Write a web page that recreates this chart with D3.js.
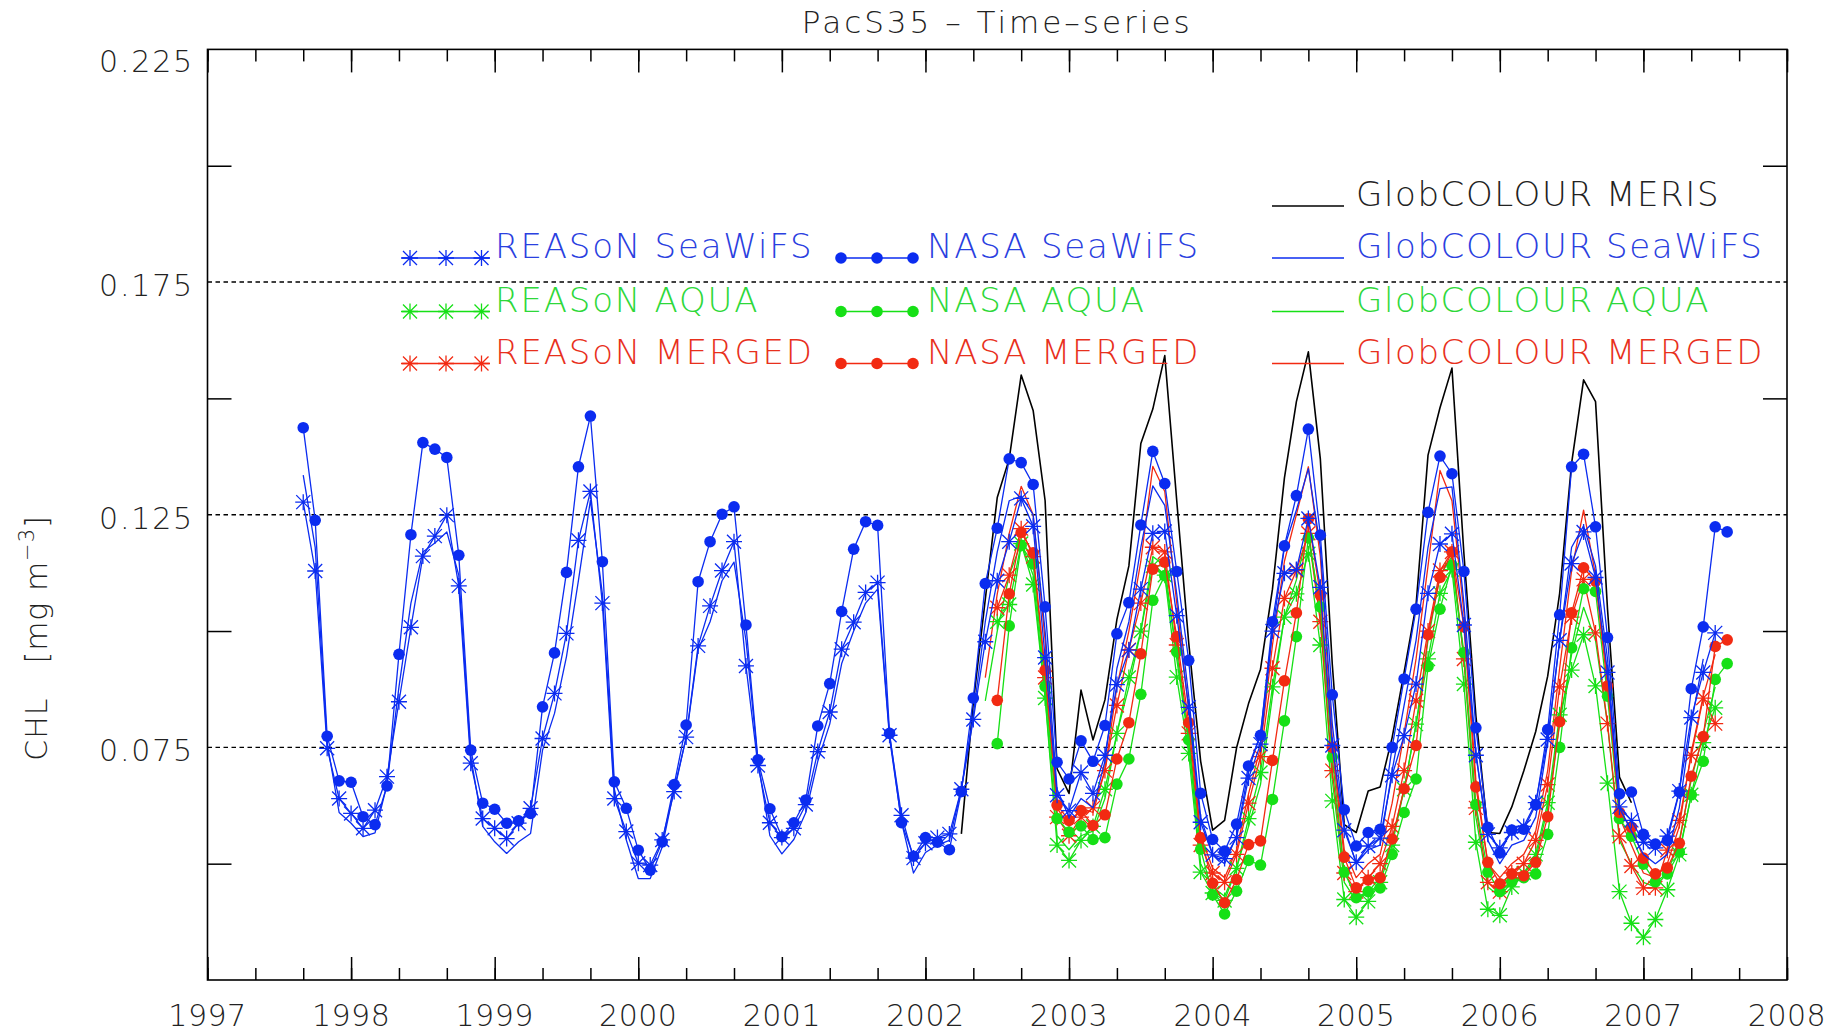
<!DOCTYPE html>
<html><head><meta charset="utf-8">
<script src="https://cdn.jsdelivr.net/npm/d3@7"></script>
<style>
body{margin:0;background:#fff;}
svg{display:block;}
text{font-family:"DejaVu Sans","Liberation Sans",sans-serif;font-weight:200;}
</style>
</head><body>
<svg id="chart" width="1845" height="1034"></svg>
<script>
// ---------------- DATA ----------------
const yearTicks = [1997,1998,1999,2000,2001,2002,2003,2004,2005,2006,2007,2008];
const yLabelTicks = [0.225,0.175,0.125,0.075];
const yMinorTicks = [0.2,0.15,0.1,0.05];
const yGridTicks = [0.175,0.125,0.075];

// monthly series: start [year, month]
const nasaSeaWiFSStart = [1997,9];
const nasaSeaWiFS = [0.1437,0.1238,0.0774,0.0678,
 0.0675,0.0601,0.0584,0.0667,0.0950,0.1207,0.1405,0.1391,0.1373,0.1163,0.0744,0.0630,
 0.0617,0.0587,0.0592,0.0608,0.0837,0.0953,0.1126,0.1353,0.1462,0.1149,0.0676,0.0619,
 0.0529,0.0486,0.0547,0.0670,0.0798,0.1106,0.1192,0.1251,0.1267,0.1013,0.0723,0.0618,
 0.0558,0.0588,0.0637,0.0796,0.0887,0.1042,0.1176,0.1235,0.1227,0.0780,0.0588,0.0516,
 0.0556,0.0546,0.0530,0.0655,0.0856,0.1102,0.1221,0.1370,0.1362,0.1315,0.1052,0.0718,
 0.0682,0.0764,0.0720,0.0797,0.0994,0.1061,0.1228,0.1386,0.1317,0.1128,0.0937,0.0651,
 0.0552,0.0527,0.0585,0.0710,0.0776,0.1020,0.1183,0.1291,0.1434,0.1206,0.0863,0.0616,
 0.0538,0.0567,0.0574,0.0750,0.0897,0.1047,0.1255,0.1376,0.1338,0.1128,0.0792,0.0578,
 0.0523,0.0572,0.0574,0.0627,0.0788,0.1035,0.1353,0.1380,0.1224,0.0986,0.0650,0.0654,
 0.0563,0.0542,0.0550,0.0654,0.0876,0.1009,0.1224,0.1213];

const reasonSeaWiFSStart = [1997,9];
const reasonSeaWiFS = [0.1277,0.1129,0.0748,0.0640,
 0.0608,0.0576,0.0615,0.0687,0.0848,0.1008,0.1161,0.1204,0.1249,0.1097,0.0716,0.0597,
 0.0576,0.0554,0.0587,0.0619,0.0769,0.0866,0.0995,0.1195,0.1300,0.1060,0.0640,0.0569,
 0.0501,0.0497,0.0551,0.0655,0.0772,0.0968,0.1054,0.1130,0.1192,0.0925,0.0711,0.0588,
 0.0556,0.0576,0.0627,0.0741,0.0826,0.0961,0.1019,0.1083,0.1104,0.0776,0.0604,0.0512,
 0.0544,0.0556,0.0564,0.0660,0.0810,0.0977,0.1108,0.1192,0.1285,0.1225,0.0943,0.0647,
 0.0614,0.0696,0.0651,0.0733,0.0885,0.0959,0.1090,0.1210,0.1214,0.1033,0.0836,0.0589,
 0.0519,0.0511,0.0556,0.0684,0.0757,0.1000,0.1124,0.1132,0.1242,0.1094,0.0754,0.0572,
 0.0503,0.0538,0.0555,0.0690,0.0775,0.0886,0.1081,0.1187,0.1209,0.1013,0.0733,0.0563,
 0.0534,0.0567,0.0580,0.0631,0.0767,0.0980,0.1145,0.1213,0.1115,0.0911,0.0622,0.0593,
 0.0546,0.0534,0.0559,0.0656,0.0814,0.0911,0.0996];

const globSeaWiFSStart = [1997,9];
const globSeaWiFS = [0.1335,0.1180,0.0760,0.0610,
 0.0587,0.0558,0.0566,0.0670,0.0880,0.1060,0.1170,0.1189,0.1213,0.1120,0.0730,0.0580,
 0.0547,0.0522,0.0547,0.0565,0.0744,0.0823,0.0945,0.1109,0.1281,0.1080,0.0660,0.0551,
 0.0468,0.0468,0.0536,0.0660,0.0770,0.0960,0.1020,0.1108,0.1148,0.0980,0.0720,0.0560,
 0.0521,0.0552,0.0610,0.0720,0.0800,0.0930,0.1000,0.1060,0.1090,0.0770,0.0590,0.0480,
 0.0524,0.0540,0.0550,0.0660,0.0820,0.1020,0.1170,0.1280,0.1290,0.1250,0.1000,0.0660,
 0.0600,0.0640,0.0620,0.0720,0.0920,0.1020,0.1180,0.1312,0.1270,0.1080,0.0860,0.0600,
 0.0520,0.0500,0.0560,0.0700,0.0780,0.1000,0.1180,0.1260,0.1349,0.1180,0.0800,0.0580,
 0.0500,0.0530,0.0540,0.0700,0.0840,0.0980,0.1180,0.1306,0.1310,0.1060,0.0740,0.0550,
 0.0500,0.0540,0.0550,0.0600,0.0760,0.0980,0.1180,0.1226,0.1140,0.0940,0.0620,0.0570,
 0.0520,0.0500,0.0520,0.0620,0.0800,0.0940];

const globMerisStart = [2002,4];
const globMeris = [0.0564,0.0846,0.1068,0.1287,0.1370,0.1550,0.1474,0.1280,0.0704,
 0.0651,0.0873,0.0766,0.0852,0.1025,0.1140,0.1403,0.1477,0.1592,0.1280,0.0975,0.0720,
 0.0572,0.0593,0.0749,0.0844,0.0918,0.1090,0.1329,0.1493,0.1600,0.1370,0.0928,0.0584,
 0.0567,0.0656,0.0665,0.0771,0.0911,0.1056,0.1378,0.1480,0.1565,0.1166,0.0818,0.0567,
 0.0565,0.0622,0.0699,0.0784,0.0903,0.1081,0.1361,0.1540,0.1493,0.1047,0.0686,0.0631];

const nasaAquaStart = [2002,7];
const nasaAqua = [0.0758,0.1011,0.1184,0.1144,0.0881,0.0597,
 0.0568,0.0581,0.0552,0.0556,0.0671,0.0725,0.0864,0.1066,0.1119,0.0955,0.0766,0.0531,
 0.0433,0.0392,0.0441,0.0507,0.0497,0.0638,0.0807,0.0988,0.1200,0.1052,0.0729,0.0482,
 0.0427,0.0440,0.0448,0.0520,0.0610,0.0682,0.0924,0.1047,0.1141,0.0954,0.0627,0.0482,
 0.0440,0.0461,0.0470,0.0478,0.0563,0.0750,0.0964,0.1091,0.1085,0.0860,0.0597,0.0559,
 0.0499,0.0461,0.0478,0.0525,0.0648,0.0720,0.0896,0.0930];

const nasaMergedStart = [2002,7];
const nasaMerged = [0.0851,0.1080,0.1212,0.1168,0.0916,0.0626,
 0.0593,0.0614,0.0582,0.0605,0.0725,0.0803,0.0951,0.1133,0.1148,0.0988,0.0803,0.0556,
 0.0458,0.0416,0.0466,0.0541,0.0549,0.0722,0.0893,0.1039,0.1241,0.1077,0.0750,0.0514,
 0.0448,0.0465,0.0470,0.0553,0.0661,0.0754,0.0992,0.1115,0.1170,0.1009,0.0665,0.0503,
 0.0457,0.0478,0.0474,0.0503,0.0601,0.0805,0.1039,0.1136,0.1107,0.0882,0.0610,0.0578,
 0.0512,0.0478,0.0491,0.0544,0.0688,0.0773,0.0967,0.0981];

const reasonAquaStart = [2002,7];
const reasonAqua = [0.1020,0.1057,0.1188,0.1100,0.0856,0.0540,
 0.0507,0.0550,0.0580,0.0660,0.0780,0.0900,0.1000,0.1140,0.1120,0.0901,0.0737,0.0482,
 0.0437,0.0421,0.0490,0.0597,0.0696,0.0880,0.1030,0.1080,0.1166,0.0970,0.0635,0.0423,
 0.0385,0.0419,0.0460,0.0540,0.0660,0.0800,0.0940,0.1081,0.1132,0.0886,0.0546,0.0402,
 0.0389,0.0450,0.0480,0.0520,0.0631,0.0820,0.0916,0.0992,0.0882,0.0673,0.0440,0.0372,
 0.0342,0.0380,0.0444,0.0520,0.0648,0.0760,0.0835];

const reasonMergedStart = [2002,7];
const reasonMerged = [0.1050,0.1120,0.1220,0.1160,0.0900,0.0600,
 0.0560,0.0600,0.0620,0.0700,0.0840,0.0960,0.1060,0.1180,0.1170,0.0970,0.0780,0.0540,
 0.0480,0.0460,0.0520,0.0630,0.0730,0.0920,0.1070,0.1130,0.1210,0.1020,0.0700,0.0480,
 0.0440,0.0470,0.0500,0.0580,0.0700,0.0850,0.1000,0.1130,0.1170,0.0940,0.0620,0.0460,
 0.0440,0.0480,0.0500,0.0550,0.0670,0.0880,0.1030,0.1111,0.0996,0.0801,0.0559,0.0495,
 0.0448,0.0448,0.0529,0.0593,0.0733,0.0856,0.0801];

const globAquaStart = [2002,6];
const globAqua = [0.0850,0.1000,0.1120,0.1190,0.1120,0.0860,0.0560,
 0.0530,0.0560,0.0570,0.0640,0.0780,0.0880,0.1000,0.1160,0.1140,0.0940,0.0760,0.0500,
 0.0450,0.0430,0.0490,0.0580,0.0670,0.0860,0.1030,0.1110,0.1217,0.1030,0.0680,0.0460,
 0.0420,0.0440,0.0470,0.0550,0.0660,0.0800,0.0980,0.1120,0.1160,0.0940,0.0600,0.0450,
 0.0430,0.0460,0.0480,0.0510,0.0620,0.0800,0.0950,0.1051,0.0980,0.0800,0.0550,0.0500,
 0.0460,0.0450,0.0480,0.0550,0.0680,0.0780,0.0880];

const globMergedStart = [2002,6];
const globMerged = [0.0900,0.1080,0.1210,0.1311,0.1250,0.0980,0.0620,
 0.0580,0.0620,0.0610,0.0700,0.0880,0.1000,0.1150,0.1354,0.1300,0.1060,0.0830,0.0560,
 0.0490,0.0470,0.0530,0.0650,0.0750,0.0970,0.1150,0.1250,0.1353,0.1160,0.0770,0.0530,
 0.0470,0.0500,0.0520,0.0630,0.0780,0.0940,0.1140,0.1345,0.1280,0.1040,0.0680,0.0500,
 0.0470,0.0500,0.0520,0.0570,0.0700,0.0920,0.1130,0.1260,0.1120,0.0900,0.0600,0.0540,
 0.0480,0.0470,0.0500,0.0580,0.0740,0.0860,0.0950];

// ---------------- DRAW ----------------
const BLUE="#0b2cf0", GREEN="#16e016", RED="#f22a12", BLACK="#000000";
const TBLUE="#2a40e0", TGREEN="#2ed83a", TRED="#e8301c";
const svg = d3.select("#chart");
const M = {left:207.5, right:1787, top:49.4, bottom:980};
const x = d3.scaleLinear().domain([1997,2008]).range([M.left,M.right]);
const y = d3.scaleLinear().domain([0.025,0.225]).range([M.bottom,M.top]);

function pts(start, vals){
  return vals.map((v,i)=>({t:start[0]+(start[1]-1+i)/12, v:v}));
}

// grid
svg.append("g").selectAll("line").data(yGridTicks).join("line")
  .attr("x1",M.left).attr("x2",M.right)
  .attr("y1",d=>y(d)).attr("y2",d=>y(d))
  .attr("stroke","#000").attr("stroke-width",1.4).attr("stroke-dasharray","4.5,3.5");

// axes via d3 axis generators
const xMinor = d3.range(1997,2008.001,1/3);
svg.append("g").attr("transform",`translate(0,${M.bottom})`)
  .call(d3.axisTop(x).tickValues(xMinor).tickSize(12).tickFormat(""));
svg.append("g").attr("transform",`translate(0,${M.bottom})`)
  .call(d3.axisTop(x).tickValues(yearTicks).tickSize(23).tickFormat(""));
svg.append("g").attr("transform",`translate(0,${M.top})`)
  .call(d3.axisBottom(x).tickValues(xMinor).tickSize(12).tickFormat(""));
svg.append("g").attr("transform",`translate(0,${M.top})`)
  .call(d3.axisBottom(x).tickValues(yearTicks).tickSize(23).tickFormat(""));
svg.append("g").attr("transform",`translate(${M.left},0)`)
  .call(d3.axisRight(y).tickValues(yMinorTicks).tickSize(24).tickFormat(""));
svg.append("g").attr("transform",`translate(${M.right},0)`)
  .call(d3.axisLeft(y).tickValues(yMinorTicks).tickSize(24).tickFormat(""));
svg.selectAll(".domain").remove();
svg.selectAll(".tick line").attr("stroke","#000").attr("stroke-width",1.5);

// frame
svg.append("rect").attr("x",M.left).attr("y",M.top)
  .attr("width",M.right-M.left).attr("height",M.bottom-M.top)
  .attr("fill","none").attr("stroke","#000").attr("stroke-width",1.6);

// tick labels
svg.append("g").selectAll("text").data(yearTicks).join("text")
  .attr("x",d=>x(d)).attr("y",1026).attr("text-anchor","middle")
  .attr("font-size",30).attr("letter-spacing",0.5).attr("fill","#222").text(d=>d);
svg.append("g").selectAll("text").data(yLabelTicks).join("text")
  .attr("x",194).attr("y",d=>y(d)+(d===0.225?23:14)).attr("text-anchor","end")
  .attr("font-size",30).attr("letter-spacing",1.8).attr("fill","#222").text(d=>d.toFixed(3));

// title
svg.append("text").attr("x",(M.left+M.right)/2).attr("y",33).attr("text-anchor","middle")
  .attr("font-size",31).attr("letter-spacing",3).attr("fill","#222").text("PacS35 \u2013 Time\u2013series");

// y title
const yt = svg.append("text").attr("transform","translate(47,638) rotate(-90)")
  .attr("text-anchor","middle").attr("font-size",30).attr("letter-spacing",1).attr("fill","#222");
yt.append("tspan").text("CHL");
yt.append("tspan").attr("dx",34).text("[mg m");
yt.append("tspan").attr("dy",-13).attr("font-size",21).text("\u22123");
yt.append("tspan").attr("dy",13).text("]");

// series
const line = d3.line().x(d=>x(d.t)).y(d=>y(d.v));
const starPath = "M0,-8L0,8M-8,0L8,0M-7,-7L7,7M-7,7L7,-7";

function drawLine(data, color, w){
  svg.append("path").datum(data).attr("d",line).attr("fill","none")
    .attr("stroke",color).attr("stroke-width",w||1.3).attr("stroke-linejoin","round");
}
function drawStars(data,color){
  drawLine(data,color);
  svg.append("g").selectAll("path").data(data).join("path")
    .attr("transform",d=>`translate(${x(d.t)},${y(d.v)})`).attr("d",starPath)
    .attr("stroke",color).attr("stroke-width",1.3).attr("fill","none");
}
function drawDots(data,color){
  drawLine(data,color);
  svg.append("g").selectAll("circle").data(data).join("circle")
    .attr("cx",d=>x(d.t)).attr("cy",d=>y(d.v)).attr("r",5.8).attr("fill",color);
}

drawLine(pts(globMerisStart,globMeris),BLACK,1.6);
drawLine(pts(globAquaStart,globAqua),GREEN);
drawLine(pts(globMergedStart,globMerged),RED);
drawStars(pts(reasonAquaStart,reasonAqua),GREEN);
drawStars(pts(reasonMergedStart,reasonMerged),RED);
drawDots(pts(nasaAquaStart,nasaAqua),GREEN);
drawDots(pts(nasaMergedStart,nasaMerged),RED);
drawLine(pts(globSeaWiFSStart,globSeaWiFS),BLUE);
drawStars(pts(reasonSeaWiFSStart,reasonSeaWiFS),BLUE);
drawDots(pts(nasaSeaWiFSStart,nasaSeaWiFS),BLUE);

// legend
const rows = [258,311.5,363.5];
const legReason = [["REASoN SeaWiFS",BLUE,TBLUE],["REASoN AQUA",GREEN,TGREEN],["REASoN MERGED",RED,TRED]];
const legNasa = [["NASA SeaWiFS",BLUE,TBLUE],["NASA AQUA",GREEN,TGREEN],["NASA MERGED",RED,TRED]];
const legGlob = [["GlobCOLOUR MERIS",BLACK,"#222"],["GlobCOLOUR SeaWiFS",BLUE,TBLUE],["GlobCOLOUR AQUA",GREEN,TGREEN],["GlobCOLOUR MERGED",RED,TRED]];
const LG = svg.append("g");
legReason.forEach((d,i)=>{
  const yy=rows[i];
  LG.append("line").attr("x1",401).attr("x2",490).attr("y1",yy).attr("y2",yy).attr("stroke",d[1]).attr("stroke-width",1.3);
  [410,446,481.5].forEach(px=>LG.append("path").attr("transform",`translate(${px},${yy})`).attr("d",starPath).attr("stroke",d[1]).attr("stroke-width",1.3).attr("fill","none"));
  LG.append("text").attr("x",495).attr("y",yy).attr("font-size",34).attr("letter-spacing",1.8).attr("fill",d[2]).text(d[0]);
});
legNasa.forEach((d,i)=>{
  const yy=rows[i];
  LG.append("line").attr("x1",841).attr("x2",913).attr("y1",yy).attr("y2",yy).attr("stroke",d[1]).attr("stroke-width",1.3);
  [841,877,913].forEach(px=>LG.append("circle").attr("cx",px).attr("cy",yy).attr("r",5.8).attr("fill",d[1]));
  LG.append("text").attr("x",927).attr("y",yy).attr("font-size",34).attr("letter-spacing",1.8).attr("fill",d[2]).text(d[0]);
});
const growsY=[206,258,311.5,363.5];
legGlob.forEach((d,i)=>{
  const yy=growsY[i];
  LG.append("line").attr("x1",1272).attr("x2",1344).attr("y1",yy).attr("y2",yy).attr("stroke",d[1]).attr("stroke-width",1.6);
  LG.append("text").attr("x",1356).attr("y",yy).attr("font-size",34).attr("letter-spacing",1.6).attr("fill",d[2]).text(d[0]);
});
</script>
</body></html>
